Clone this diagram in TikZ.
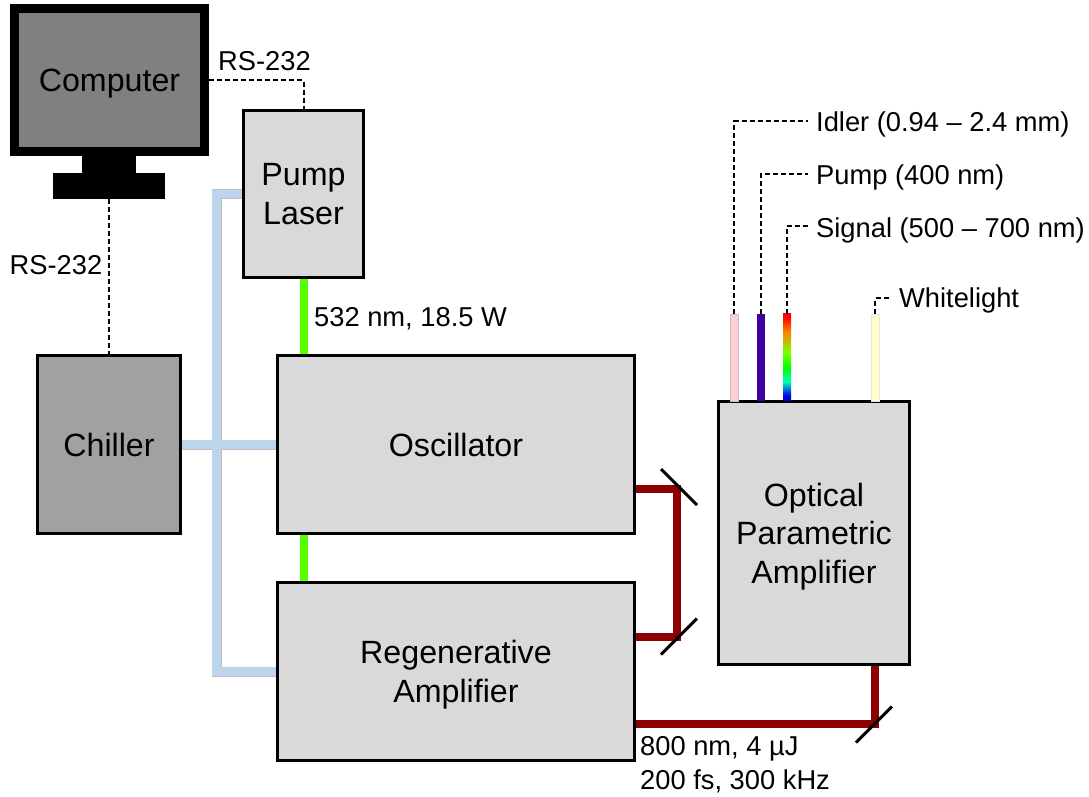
\documentclass[tikz,border=0pt]{standalone}
\usepackage{fontspec}
\setmainfont{Liberation Sans}
\usepackage{tikz}
\definecolor{coolant}{RGB}{188,213,236}
\definecolor{pumpgreen}{RGB}{85,255,0}
\definecolor{ampred}{RGB}{139,0,0}
\definecolor{idlerpink}{RGB}{255,205,214}
\definecolor{pumpviolet}{RGB}{63,0,160}
\definecolor{whitelight}{RGB}{255,255,204}
\pgfdeclareverticalshading{rainbowbeam}{100bp}{color(0bp)=(blue!90!black); color(28bp)=(blue!90!black); color(36bp)=(cyan!70!green); color(44bp)=(green); color(53bp)=(green!50!yellow); color(65bp)=(orange); color(73bp)=(red); color(100bp)=(red)}
\tikzset{
  labnode/.style = {align=center, inner sep=0pt, text centered, text depth=0pt,
    font=\fontsize{32.2}{38.5}\selectfont},
  box_l/.style = {labnode, rectangle, draw=black, fill=black!15, line width=3pt},% laser head, cavity
  box_d/.style = {labnode, rectangle, draw=black, fill=black!37, line width=3pt},% chiller
  box_s/.style = {labnode, rectangle, draw=black, fill=black!50, line width=9pt},% monitor
  box_k/.style = {rectangle, fill=black, inner sep=0pt},% monitor foot
  beam/.style = {rectangle, inner sep=0pt, minimum width=8pt, minimum height=87pt, anchor=south},
  txt/.style = {inner sep=0pt, align=left, font=\fontsize{27.3}{34}\selectfont},
  txt_d/.style = {txt, anchor=west, inner xsep=8pt},
  serial/.style = {black, line width=2pt, dash pattern=on 5pt off 3pt},
  greenbeam/.style = {pumpgreen, line width=8pt},
  redbeam/.style = {ampred, line width=8pt},
  water/.style = {draw=black!25, line width=.8pt, double=coolant, double distance=8.4pt},
  mirror/.style = {black, line width=3pt},
}

\begin{document}
\begin{tikzpicture}[x=1pt,y=-1pt]
  \useasboundingbox (0,0) rectangle (1089,796);
%
  \node[box_s, minimum width=190pt, minimum height=143pt] (comp) at (109.5,80) {Computer};
  \node[box_k, minimum width=54pt, minimum height=18pt] (stand) at (109,164) {};
  \node[box_k, minimum width=112pt, minimum height=26pt] (foot) at (109,186) {};
  \node[box_l, minimum width=120pt, minimum height=167pt] (pump) at (303.5,194) {Pump\\Laser};
  \node[box_d, minimum width=143pt, minimum height=178pt] (chiller) at (109,444.5) {Chiller};
  \node[box_l, minimum width=357pt, minimum height=178pt] (osc) at (456,444.5) {Oscillator};
  \node[box_l, minimum width=357pt, minimum height=178pt] (regen) at (456,671.5) {Regenerative\\Amplifier};
  \node[box_l, minimum width=191pt, minimum height=263pt] (opa) at (814,533) {Optical\\Parametric\\Amplifier};
%
  \coordinate (spine) at (216.5,444.5);
  \coordinate (mirA) at (679,487);
  \coordinate (mirB) at (679,636.5);
  \coordinate (mirC) at (874,724.5);
  \coordinate (turnA) at (677,488.5);
  \coordinate (turnB) at (677,636.5);
  \coordinate (turnC) at (875,723.5);
%   outgoing beams
  \node[beam, fill=idlerpink, draw=black!25, line width=.5pt] (idler) at (734,401) {};
  \node[beam, fill=pumpviolet] (pumpout) at (761,401) {};
  \node[beam, shading=rainbowbeam] (signal) at (787,401) {};
  \node[beam, fill=whitelight, draw=black!10, line width=.5pt] (white) at (875,401) {};
%
  \node[txt_d] (tidler) at (808,124) {Idler (0.94 – 2.4 mm)};
  \node[txt_d] (tpump) at (808,177) {Pump (400 nm)};
  \node[txt_d] (tsignal) at (808,230) {Signal (500 – 700 nm)};
  \node[txt_d] (twhite) at (891,300) {Whitelight};
  \node[txt] (trsa) at (264.5,61) {RS-232};
  \node[txt] (trsb) at (56,265) {RS-232};
  \node[txt, anchor=west] (tgreen) at (314,319) {532 nm, 18.5 W};
  \node[txt, anchor=north west] (tred) at (640,736) {800 nm, 4 µJ\\200 fs, 300 kHz};
%   cooling water
  \draw[water] (pump.west) -| (spine) |- (regen.west) (chiller.east) -- (osc.west);
%   pump light
  \draw[greenbeam] (pump.south) -- (pump.south |- osc.north);
  \draw[greenbeam] (pump.south |- osc.south) -- (pump.south |- regen.north);
%   800 nm path
  \draw[redbeam] (osc.east |- turnA) -- (turnA) -- (turnB) -- (regen.east |- turnB);
  \draw[redbeam] (regen.east |- turnC) -- (turnC) -- (turnC |- opa.south);
  \draw[mirror] (mirA) +(-18,-18) -- +(18,18);
  \draw[mirror] (mirB) +(-18,18) -- +(18,-18);
  \draw[mirror] (mirC) +(-18,18) -- +(18,-18);
%   serial lines
  \draw[serial] (comp.east) -| (pump.north);
  \path[serial] (foot) edge (chiller);
  \draw[serial] (idler.north) |- ([yshift=3pt]tidler.west);
  \draw[serial] (pumpout.north) |- ([yshift=3pt]tpump.west);
  \draw[serial] (signal.north) |- ([yshift=4pt]tsignal.west);
  \draw[serial] (white.north) |- ([yshift=2pt]twhite.west);
\end{tikzpicture}
\end{document}
